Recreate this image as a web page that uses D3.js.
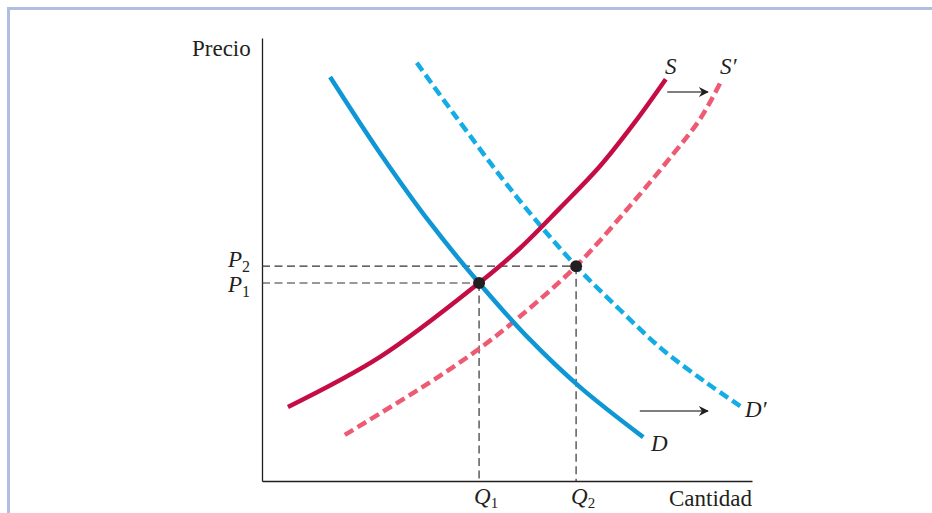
<!DOCTYPE html>
<html>
<head>
  <meta charset="utf-8">
  <style>
  *{
    margin: 0;
    padding: 0;
  }
  body{
    background: #fff;
  }
  text{
    font-family: 'Liberation Serif', 'Times New Roman', serif;
    fill: #231f20;
  }
  .axis path{
    stroke: #231f20;
    stroke-width: 1.3px;
  }
  .lbl{
    font-size: 23px;
  }
  .it{
    font-style: italic;
  }
  .guide{
    fill: none;
    stroke: #333;
    stroke-width: 1.2px;
    stroke-dasharray: 8 4.5;
  }
  </style>
</head>
<body>
  <div class="chart"></div>
  <script src="https://d3js.org/d3.v7.min.js"></script>
  <script>

  // curves: [cantidad, precio]
  let supply = [[0.53, 1.67], [2.41, 2.80], [4.43, 4.47], [5.27, 5.26], [6.08, 6.16], [6.90, 7.11], [7.61, 8.10], [8.24, 9.07]];
  let supply2 = [[1.69, 1.04], [3.43, 2.23], [4.45, 3.00], [5.27, 3.72], [6.41, 4.85], [7.51, 6.21], [8.39, 7.38], [8.94, 8.17], [9.35, 8.98]];
  let demand = [[1.39, 9.12], [2.41, 7.40], [3.43, 5.83], [4.43, 4.47], [5.47, 3.19], [6.49, 2.12], [7.78, 0.99]];
  let demand2 = [[3.16, 9.44], [3.90, 8.31], [5.20, 6.41], [6.41, 4.85], [7.31, 3.86], [8.18, 2.96], [9.08, 2.21], [9.76, 1.69]];

  // equilibrium points: Q1/P1 and Q2/P2
  let equilibria = [[4.43, 4.47], [6.41, 4.85]];
  let eqNames = ['1', '2'];

  // shift arrows
  let arrows = [[[8.27, 8.78], [9.10, 8.78]], [[7.71, 1.58], [9.10, 1.58]]];

  let width = 932, height = 513;

  let x = d3.scaleLinear().domain([0, 10]).range([262, 752]);
  let y = d3.scaleLinear().domain([0, 10]).range([481, 38]);

  let svg = d3.select('.chart')
    .append('svg')
    .attr('width', width)
    .attr('height', height);

  let defs = svg.append('defs');
  defs.append('marker')
    .attr('id', 'head')
    .attr('viewBox', '0 0 10 10')
    .attr('refX', 9)
    .attr('refY', 5)
    .attr('markerWidth', 14)
    .attr('markerHeight', 10)
    .attr('markerUnits', 'userSpaceOnUse')
    .attr('orient', 'auto')
    .append('path')
    .attr('d', 'M0,0 L10,5 L0,10 L3,5 Z')
    .attr('fill', '#231f20');

  // light blue frame
  svg.append('path')
    .attr('d', 'M8.5,' + height + ' L8.5,8.5 L' + width + ',8.5')
    .attr('fill', 'none')
    .attr('stroke', '#aebfe3')
    .attr('stroke-width', 3);

  // axes, no ticks
  svg.append('g')
    .attr('class', 'axis')
    .attr('transform', 'translate(0,' + y(0) + ')')
    .call(d3.axisBottom(x).tickValues([]).tickSizeOuter(0));

  svg.append('g')
    .attr('class', 'axis')
    .attr('transform', 'translate(' + x(0) + ',0)')
    .call(d3.axisLeft(y).tickValues([]).tickSizeOuter(0));

  // dashed guides to the axes
  equilibria.forEach(function(d){
    svg.append('path')
      .attr('class', 'guide')
      .attr('d', 'M' + x(0) + ',' + y(d[1]) + ' L' + x(d[0]) + ',' + y(d[1]));
    svg.append('path')
      .attr('class', 'guide')
      .attr('d', 'M' + x(d[0]) + ',' + y(d[1]) + ' L' + x(d[0]) + ',' + y(0));
  });

  let line = d3.line()
    .x(function(d){ return x(d[0]); })
    .y(function(d){ return y(d[1]); })
    .curve(d3.curveCatmullRom.alpha(0.5));

  let curves = [
    {data: supply2, color: '#ef5a73', dash: '10 5'},
    {data: demand2, color: '#14ace5', dash: '10 5'},
    {data: demand, color: '#0f97d5', dash: null},
    {data: supply, color: '#c50d45', dash: null}
  ];

  svg.selectAll('.curve')
    .data(curves)
    .enter()
    .append('path')
    .attr('class', 'curve')
    .attr('d', function(d){ return line(d.data); })
    .attr('fill', 'none')
    .attr('stroke', function(d){ return d.color; })
    .attr('stroke-width', 4.5)
    .attr('stroke-dasharray', function(d){ return d.dash; });

  svg.selectAll('.dot')
    .data(equilibria)
    .enter()
    .append('circle')
    .attr('class', 'dot')
    .attr('cx', function(d){ return x(d[0]); })
    .attr('cy', function(d){ return y(d[1]); })
    .attr('r', 6)
    .attr('fill', '#231f20');

  svg.selectAll('.arrow')
    .data(arrows)
    .enter()
    .append('path')
    .attr('class', 'arrow')
    .attr('d', function(d){ return 'M' + x(d[0][0]) + ',' + y(d[0][1]) + ' L' + x(d[1][0]) + ',' + y(d[1][1]); })
    .attr('stroke', '#555')
    .attr('stroke-width', 1.4)
    .attr('marker-end', 'url(#head)');

  // axis titles
  svg.append('text').attr('class', 'lbl').attr('x', 192).attr('y', 56).text('Precio');
  svg.append('text').attr('class', 'lbl').attr('x', 752).attr('y', 506)
    .attr('text-anchor', 'end').text('Cantidad');

  // curve names
  let names = [
    {t: 'S', x: 665, y: 74},
    {t: 'S\u2032', x: 720, y: 74},
    {t: 'D\u2032', x: 745, y: 417},
    {t: 'D', x: 651, y: 451}
  ];
  svg.selectAll('.name')
    .data(names)
    .enter()
    .append('text')
    .attr('class', 'lbl it name')
    .attr('x', function(d){ return d.x; })
    .attr('y', function(d){ return d.y; })
    .text(function(d){ return d.t; });

  // P and Q labels with subscripts
  equilibria.forEach(function(d, i){
    let p = svg.append('text')
      .attr('class', 'lbl')
      .attr('text-anchor', 'end')
      .attr('x', x(0) - 12)
      .attr('y', y(d[1]) + (i == 0 ? 9 : 1));
    p.append('tspan').attr('class', 'it').text('P');
    p.append('tspan').attr('font-size', 16).attr('dy', 5).text(eqNames[i]);

    let q = svg.append('text')
      .attr('class', 'lbl')
      .attr('x', x(d[0]) - 5)
      .attr('y', 504);
    q.append('tspan').attr('class', 'it').text('Q');
    q.append('tspan').attr('font-size', 15).attr('dy', 4).text(eqNames[i]);
  });

  </script>
</body>
</html>
